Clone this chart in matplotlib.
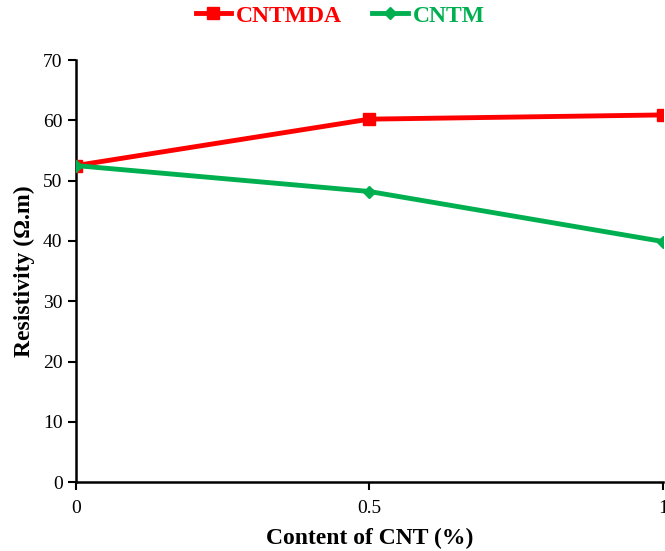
import matplotlib
matplotlib.use("Agg")
import matplotlib.pyplot as plt

# Data
content = ["0", "0.5", "1"]
cntmda = [52.5, 60.2, 60.9]
cntm = [52.5, 48.2, 39.9]

plt.rcParams['font.family'] = ['Liberation Serif', 'DejaVu Serif']

fig = plt.figure(figsize=(6.65, 5.51), dpi=100)
ax = fig.add_axes([0.114, 0.125, 0.883, 0.766])

x = range(len(content))
ax.plot(x, cntmda, color='#ff0000', lw=3.5, marker='s', ms=8, label='CNTMDA', zorder=3)
ax.plot(x, cntm, color='#00b050', lw=3.5, marker='D', ms=6, label='CNTM', zorder=4)

ax.set_xlim(0, len(content) - 1)
ax.set_ylim(0, 70)
ax.set_xticks(list(x))
ax.set_xticklabels(content)
ax.set_yticks(range(0, 71, 10))
ax.tick_params(axis='both', labelsize=14, width=1.5, length=6, direction='out')
ax.tick_params(axis='x', pad=7)

for side in ['top', 'right']:
    ax.spines[side].set_visible(False)
for side in ['left', 'bottom']:
    ax.spines[side].set_linewidth(1.8)

ax.set_xlabel('Content of CNT (%)', fontsize=17, fontweight='bold', labelpad=8)
ax.set_ylabel('Resistivity (Ω.m)', fontsize=17, fontweight='bold', labelpad=6)

leg = ax.legend(loc='lower center', bbox_to_anchor=(0.45, 1.04), ncol=2, frameon=False,
                prop={'size': 17, 'weight': 'bold'}, handlelength=1.5, columnspacing=1.3,
                handletextpad=0.2, borderaxespad=0.3)
for text, line in zip(leg.get_texts(), leg.get_lines()):
    text.set_color(line.get_color())

fig.savefig('out.png', dpi=100)
